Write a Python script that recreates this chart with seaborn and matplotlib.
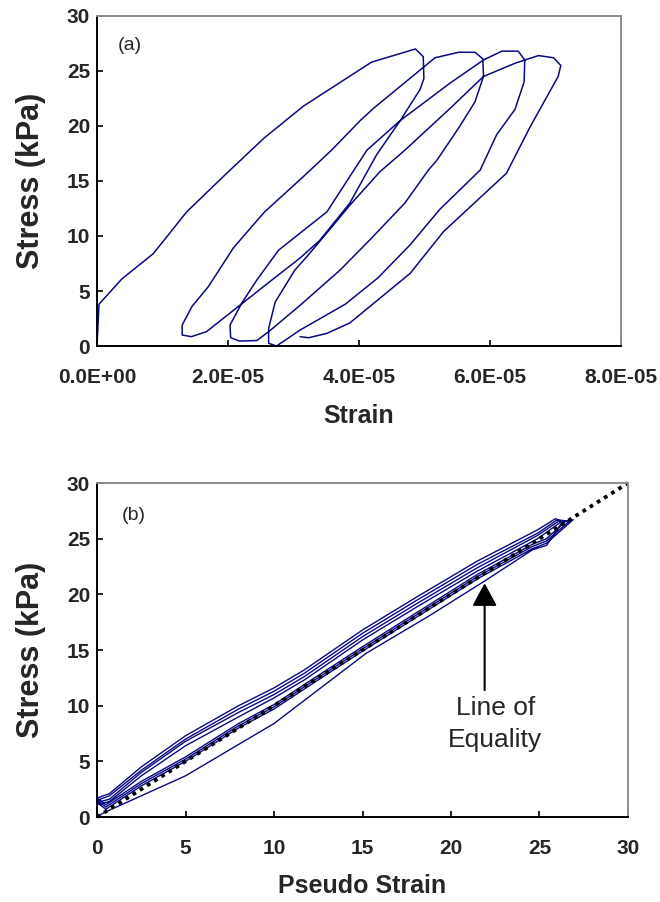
import numpy as np
import pandas as pd
import matplotlib
matplotlib.use("Agg")
import matplotlib.pyplot as plt
import seaborn as sns

# ---------------- data: panel (a) strain (x1e-5) vs stress (kPa) ----------------
strain_c1 = [0.00, 0.03, 0.38, 0.86, 1.37, 1.98, 2.55, 3.15, 4.19, 4.58, 4.86, 4.98, 4.99, 4.93,
             4.63, 4.27, 3.86, 3.40, 3.10, 2.67, 1.67, 1.44, 1.30]
stress_c1 = [0.0, 3.8, 6.1, 8.4, 12.2, 15.7, 18.9, 21.8, 25.8, 26.5, 27.0, 26.3, 24.3, 23.3,
             20.5, 17.4, 13.0, 9.6, 8.0, 6.0, 1.3, 0.85, 1.0]
strain_c2 = [1.30, 1.45, 1.70, 2.08, 2.34, 2.56, 3.15, 3.58, 4.02, 4.22, 5.16, 5.52, 5.77, 5.89,
             5.90, 5.77, 5.53, 5.19, 5.06, 4.70, 4.19, 3.71, 3.10, 2.62, 2.44, 2.17, 2.04]
stress_c2 = [1.9, 3.6, 5.4, 8.9, 10.7, 12.2, 15.4, 17.8, 20.5, 21.6, 26.2, 26.7, 26.7, 26.1,
             24.5, 22.2, 19.9, 16.9, 16.0, 13.0, 9.8, 6.9, 3.7, 1.3, 0.5, 0.45, 0.76]
strain_c3 = [2.03, 2.21, 2.44, 2.77, 3.51, 4.12, 4.63, 5.39, 5.90, 6.18, 6.43, 6.53, 6.52, 6.38,
             6.10, 5.85, 5.23, 4.78, 4.29, 3.79, 3.10, 2.74]
stress_c3 = [1.9, 3.9, 6.0, 8.7, 12.2, 17.8, 20.5, 23.9, 26.0, 26.8, 26.8, 26.0, 24.0, 21.5,
             19.2, 16.0, 12.4, 9.2, 6.2, 3.8, 1.45, 0.0]
strain_c4 = [2.62, 2.62, 2.72, 3.02, 3.20, 3.61, 3.86, 4.32, 4.70, 5.39, 5.90, 6.38, 6.74, 6.97,
             7.08, 7.04, 6.61, 6.25, 5.29, 4.78, 3.86, 3.51, 3.23, 3.10]
stress_c4 = [0.25, 1.6, 4.0, 6.9, 8.1, 11.0, 12.8, 15.85, 17.8, 21.6, 24.5, 25.7, 26.4, 26.2,
             25.5, 24.5, 19.9, 15.7, 10.4, 6.6, 2.1, 1.15, 0.75, 0.85]
strain_ticks = [0.0, 2.0e-5, 4.0e-5, 6.0e-5, 8.0e-5]
stress_ticks = [0, 5, 10, 15, 20, 25, 30]

# ---------------- data: panel (b) pseudo strain vs stress ----------------
ps_L1 = [0.0, 0.4, 5.0, 10.0, 15.2, 18.8, 22.0, 24.6, 25.4, 26.3]
st_L1 = [0.0, 0.4, 3.7, 8.4, 14.7, 18.1, 21.3, 24.0, 24.4, 26.5]
ps_U1 = [25.9, 24.9, 21.5, 18.1, 15.0, 11.7, 10.0, 8.0, 5.0, 2.5, 0.7, 0.0]
st_U1 = [26.8, 25.8, 23.0, 19.8, 16.8, 13.2, 11.6, 10.0, 7.3, 4.5, 2.1, 1.7]
ps_L2 = [0.5, 2.5, 5.0, 8.0, 10.0, 12.0, 15.0, 18.0, 21.5, 24.6, 25.4, 26.5]
st_L2 = [1.1, 3.2, 5.4, 8.4, 10.1, 12.2, 15.3, 18.3, 21.8, 24.5, 25.0, 26.6]
ps_U2 = [26.0, 24.9, 21.5, 18.1, 15.0, 11.7, 10.0, 8.0, 5.0, 2.5, 0.7, 0.0]
st_U2 = [26.7, 25.5, 22.7, 19.5, 16.5, 12.9, 11.3, 9.7, 7.0, 4.2, 1.9, 1.5]
ps_L3 = [0.5, 2.5, 5.0, 8.0, 10.0, 12.0, 15.0, 18.0, 21.5, 24.6, 25.4, 26.7]
st_L3 = [0.9, 3.0, 5.2, 8.2, 9.9, 12.0, 15.1, 18.1, 21.6, 24.3, 24.8, 26.6]
ps_U3 = [26.1, 24.9, 21.5, 18.1, 15.0, 11.7, 10.0, 8.0, 5.0, 2.5, 0.7, 0.0]
st_U3 = [26.6, 25.3, 22.4, 19.2, 16.2, 12.6, 11.0, 9.4, 6.8, 4.0, 1.6, 1.3]
ps_L4 = [0.5, 2.5, 5.0, 8.0, 10.0, 12.0, 15.0, 18.0, 21.5, 24.6, 25.4, 26.9]
st_L4 = [0.7, 2.8, 5.0, 8.0, 9.7, 11.8, 14.9, 17.9, 21.4, 24.1, 24.6, 26.7]
ps_U4 = [26.2, 24.9, 21.5, 18.1, 15.0, 11.7, 10.0, 8.0, 5.0, 2.5, 0.7, 0.0]
st_U4 = [26.5, 25.0, 22.1, 18.9, 15.9, 12.3, 10.7, 9.0, 6.4, 3.7, 1.4, 1.1]
equality = [0, 30]
pseudo_ticks = [0, 5, 10, 15, 20, 25, 30]

# ---------------- style ----------------
sns.set_style("ticks")
plt.rcParams["font.family"] = ["Liberation Sans", "DejaVu Sans"]

NAVY = "#0a0a80"
TICK_FS = 15
XLABEL_FS = 18
YLABEL_FS = 22

df_a = pd.DataFrame({
    "strain": np.concatenate([strain_c1, strain_c2, strain_c3, strain_c4]) * 1e-5,
    "stress": np.concatenate([stress_c1, stress_c2, stress_c3, stress_c4]),
})
df_b = pd.DataFrame({
    "pseudo": np.concatenate([ps_L1, ps_U1, ps_L2, ps_U2, ps_L3, ps_U3, ps_L4, ps_U4]),
    "stress": np.concatenate([st_L1, st_U1, st_L2, st_U2, st_L3, st_U3, st_L4, st_U4]),
})
df_eq = pd.DataFrame({"pseudo": equality, "stress": equality})

fig = plt.figure(figsize=(6.6, 9.02), dpi=100)
ax1 = fig.add_axes([0.147, 0.6164, 0.794, 0.3659])
ax2 = fig.add_axes([0.147, 0.0942, 0.8045, 0.3703])


def style_axes(ax, xlab_y, ylab_x):
    for side in ["left", "bottom"]:
        ax.spines[side].set_color("black")
        ax.spines[side].set_linewidth(1.4)
    for side in ["top", "right"]:
        ax.spines[side].set_visible(True)
        ax.spines[side].set_color("#8c8c8c")
        ax.spines[side].set_linewidth(1.4)
    ax.tick_params(direction="in", length=4, width=1.2, labelsize=TICK_FS, color="black")
    ax.tick_params(axis="x", pad=16)
    ax.tick_params(axis="y", pad=5)
    for lab in ax.get_xticklabels() + ax.get_yticklabels():
        lab.set_fontweight("bold")
    ax.xaxis.set_label_coords(0.5, xlab_y)
    ax.xaxis.label.set_va("center")
    ax.yaxis.set_label_coords(ylab_x, 0.5)
    ax.yaxis.label.set_va("center")


# panel (a)
sns.lineplot(data=df_a, x="strain", y="stress", sort=False, estimator=None,
             color=NAVY, linewidth=1.1, ax=ax1)
ax1.set_xlim(0, 8e-5)
ax1.set_ylim(0, 30)
ax1.set_xticks(strain_ticks)
ax1.set_xticklabels([f"{v:.1E}" for v in strain_ticks])
ax1.set_yticks(stress_ticks)
ax1.set_xlabel("Strain", fontsize=XLABEL_FS, fontweight="bold")
ax1.set_ylabel("Stress (kPa)", fontsize=YLABEL_FS, fontweight="bold")
ax1.text(0.04, 0.912, "(a)", transform=ax1.transAxes, fontsize=14, va="center", ha="left")
style_axes(ax1, -0.212, -0.126)

# panel (b)
sns.lineplot(data=df_b, x="pseudo", y="stress", sort=False, estimator=None,
             color=NAVY, linewidth=1.0, ax=ax2)
sns.lineplot(data=df_eq, x="pseudo", y="stress", sort=False, estimator=None,
             color="black", linewidth=2.7, linestyle=(0, (1, 1.25)), ax=ax2)
for ln in ax2.get_lines()[-1:]:
    ln.set_clip_on(False)
    ln.set_dash_capstyle("butt")
ax2.set_xlim(0, 30)
ax2.set_ylim(0, 30)
ax2.set_xticks(pseudo_ticks)
ax2.set_yticks(stress_ticks)
ax2.set_xlabel("Pseudo Strain", fontsize=XLABEL_FS, fontweight="bold")
ax2.set_ylabel("Stress (kPa)", fontsize=YLABEL_FS, fontweight="bold")
ax2.text(0.0465, 0.904, "(b)", transform=ax2.transAxes, fontsize=14, va="center", ha="left")
ax2.annotate("", xy=(21.9, 21.0), xytext=(21.9, 11.4),
             arrowprops=dict(arrowstyle="-|>,head_length=0.7,head_width=0.38",
                             color="black", lw=1.5, mutation_scale=20, shrinkA=0, shrinkB=0))
ax2.text(22.5, 8.36, "Line of\nEquality", fontsize=19, ha="center", va="center", linespacing=1.4)
style_axes(ax2, -0.2066, -0.124)

fig.savefig("out.png", dpi=100)
